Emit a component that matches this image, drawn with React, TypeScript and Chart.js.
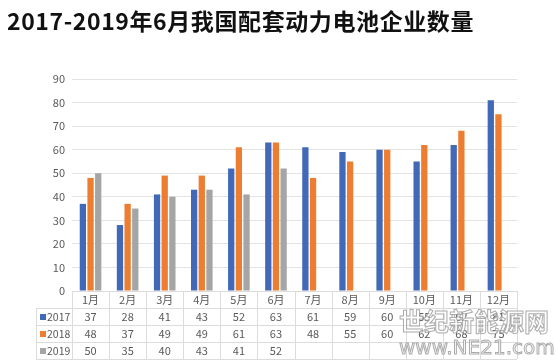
import React, { useEffect, useRef } from "react";
import { Chart, registerables } from "chart.js";

Chart.register(...registerables);

const titleText = "2017-2019年6月我国配套动力电池企业数量";
const categories = ["1月", "2月", "3月", "4月", "5月", "6月", "7月", "8月", "9月", "10月", "11月", "12月"];
const seriesNames = ["2017", "2018", "2019"];
const values2017 = [37, 28, 41, 43, 52, 63, 61, 59, 60, 55, 62, 81];
const values2018 = [48, 37, 49, 49, 61, 63, 48, 55, 60, 62, 68, 75];
const values2019: (number | null)[] = [50, 35, 40, 43, 41, 52, null, null, null, null, null, null];
const seriesColors = ["#4169B8", "#ED7D31", "#A5A5A5"];
const yMax = 90;
const yStep = 10;
const watermarkLine1 = "世纪新能源网";
const watermarkLine2 = "www.NE21.com";

const FONT = "'Noto Sans CJK SC', 'Noto Sans', sans-serif";

const tablePlugin = {
  id: "dataTable",
  afterDraw(chart: any) {
    const { ctx, chartArea, scales } = chart;
    const x = scales.x;
    const rowH = 17;
    const top = chartArea.bottom;
    const legendLeft = 36;
    const right = chartArea.right;
    const n = categories.length;
    const catW = (chartArea.right - chartArea.left) / n;
    ctx.save();
    ctx.strokeStyle = "#dcdcdc";
    ctx.lineWidth = 1;
    for (let k = 0; k <= 4; k++) {
      const y = Math.round(top + k * rowH) + 0.5;
      ctx.beginPath();
      ctx.moveTo(k === 0 ? chartArea.left : legendLeft, y);
      ctx.lineTo(right, y);
      ctx.stroke();
    }
    for (let i = 0; i <= n; i++) {
      const xx = Math.round(chartArea.left + i * catW) + 0.5;
      ctx.beginPath();
      ctx.moveTo(xx, top);
      ctx.lineTo(xx, top + 4 * rowH);
      ctx.stroke();
    }
    ctx.beginPath();
    ctx.moveTo(legendLeft + 0.5, top + rowH);
    ctx.lineTo(legendLeft + 0.5, top + 4 * rowH);
    ctx.stroke();

    const seriesData = [values2017, values2018, values2019];
    ctx.textBaseline = "middle";
    seriesData.forEach((vals, r) => {
      const cy = top + (r + 1) * rowH + rowH / 2 + 0.5;
      ctx.fillStyle = seriesColors[r];
      ctx.fillRect(40, Math.round(cy - 3), 6, 6);
      ctx.fillStyle = "#595959";
      ctx.textAlign = "left";
      ctx.font = `10.5px ${FONT}`;
      ctx.fillText(seriesNames[r], 47, cy);
      ctx.textAlign = "center";
      ctx.font = `11px ${FONT}`;
      vals.forEach((v, i) => {
        if (v === null || v === undefined) return;
        ctx.fillText(String(v), x.getPixelForValue(i), cy);
      });
    });

    // watermark
    ctx.textAlign = "left";
    ctx.textBaseline = "alphabetic";
    ctx.lineWidth = 1;
    ctx.strokeStyle = "rgba(150,150,150,0.8)";
    ctx.fillStyle = "rgba(255,255,255,0.55)";
    ctx.font = `bold 25px ${FONT}`;
    ctx.fillText(watermarkLine1, 399, 331);
    ctx.strokeText(watermarkLine1, 399, 331);
    ctx.font = `20px 'DejaVu Sans', sans-serif`;
    ctx.fillText(watermarkLine2, 399, 354);
    ctx.strokeText(watermarkLine2, 399, 354);
    ctx.restore();
  },
};

export default function App() {
  const canvasRef = useRef<HTMLCanvasElement | null>(null);

  useEffect(() => {
    if (!canvasRef.current) return;
    const chart = new Chart(canvasRef.current, {
      type: "bar",
      data: {
        labels: categories,
        datasets: [
          { label: seriesNames[0], data: values2017, backgroundColor: seriesColors[0] },
          { label: seriesNames[1], data: values2018, backgroundColor: seriesColors[1] },
          { label: seriesNames[2], data: values2019, backgroundColor: seriesColors[2] },
        ],
      },
      options: {
        responsive: false,
        animation: false,
        devicePixelRatio: 1,
        layout: { padding: { left: 22, top: 79, right: 39, bottom: 0 } },
        datasets: { bar: { categoryPercentage: 0.62, barPercentage: 0.82 } },
        plugins: {
          legend: { display: false },
          title: { display: false },
          tooltip: { enabled: false },
        },
        scales: {
          x: {
            grid: { display: false, drawTicks: false },
            border: { display: false },
            ticks: { color: "#595959", font: { size: 11, family: FONT }, padding: 2, maxRotation: 0 },
            afterFit(scale: any) {
              scale.height = 70;
            },
          },
          y: {
            min: 0,
            max: yMax,
            ticks: { stepSize: yStep, color: "#595959", font: { size: 11, family: FONT }, padding: 7 },
            grid: { color: "#e3e3e3", drawTicks: false },
            border: { display: false },
            afterFit(scale: any) {
              scale.width = 50;
            },
          },
        },
      },
      plugins: [tablePlugin],
    });
    return () => chart.destroy();
  }, []);

  return (
    <div style={{ position: "fixed", left: 0, top: 0, width: 556, height: 361, background: "#fff", overflow: "hidden" }}>
      <canvas ref={canvasRef} width={556} height={361} style={{ position: "absolute", left: 0, top: 0 }} />
      <div
        style={{
          position: "absolute",
          left: 7,
          top: 3,
          fontFamily: FONT,
          fontWeight: 700,
          fontSize: 23,
          color: "#111",
          whiteSpace: "nowrap",
          letterSpacing: 0.6,
        }}
      >
        {titleText}
      </div>
    </div>
  );
}
